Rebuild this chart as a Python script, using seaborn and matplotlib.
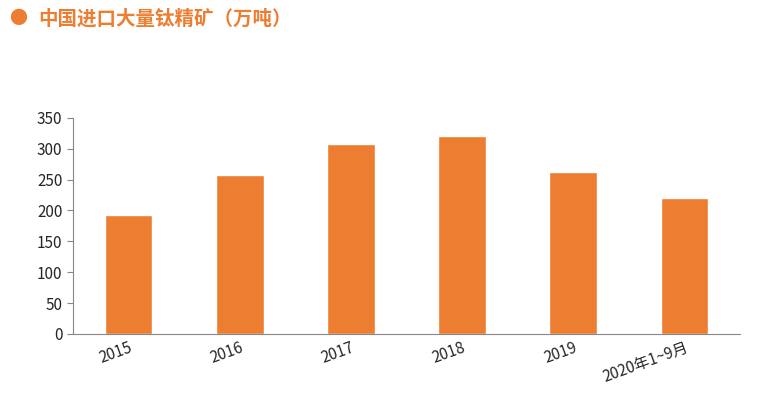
import matplotlib
matplotlib.use("Agg")
import matplotlib.pyplot as plt
import seaborn as sns
import pandas as pd

categories = ["2015", "2016", "2017", "2018", "2019", "2020年1~9月"]
values = [192, 258, 308, 321, 263, 221]
yticks = [0, 50, 100, 150, 200, 250, 300, 350]

sns.set_style("white")
plt.rcParams['font.family'] = ['Noto Sans CJK SC', 'DejaVu Sans']

fig = plt.figure(figsize=(7.67, 4.18), dpi=100)
ax = fig.add_axes([0.095, 0.201, 0.87, 0.517])
df = pd.DataFrame({"cat": categories, "val": values})
sns.barplot(data=df, x="cat", y="val", color="#ED7D31", saturation=1, width=0.43, ax=ax)
ax.set_ylim(0, 350)
ax.set_yticks(yticks)
ax.set_xlabel("")
ax.set_ylabel("")
ax.tick_params(axis="y", labelsize=11, length=4, color="#888888", direction="out", left=True)
ax.tick_params(axis="x", labelsize=11, length=0)
for lbl in ax.get_xticklabels():
    lbl.set_rotation(20)
    lbl.set_ha("right")
    lbl.set_rotation_mode("anchor")
for s in ["top", "right"]:
    ax.spines[s].set_visible(False)
for s in ["left", "bottom"]:
    ax.spines[s].set_color("#888888")
    ax.spines[s].set_linewidth(0.8)

fig.text(0.012, 0.955, "●", color="#ED7D31", fontsize=13, va="center")
fig.text(0.05, 0.955, "中国进口大量钛精矿（万吨）", color="#ED7D31", fontsize=14,
         fontweight="bold", va="center")
fig.savefig("out.png", dpi=100)
